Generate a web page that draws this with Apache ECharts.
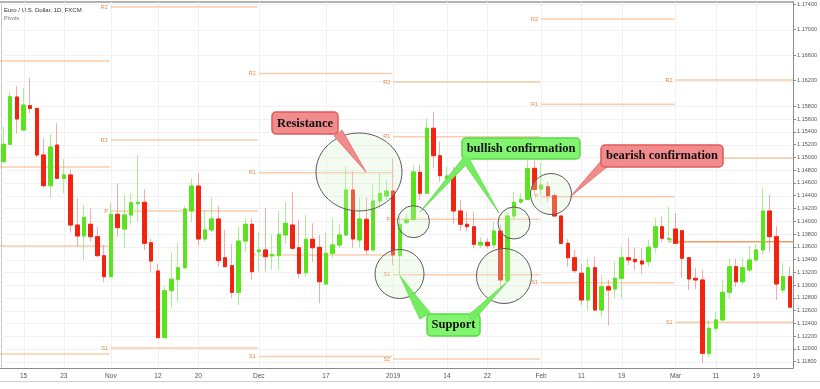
<!DOCTYPE html>
<html><head><meta charset="utf-8">
<script src="https://cdn.jsdelivr.net/npm/echarts@6/dist/echarts.min.js"></script>
<style>html,body{margin:0;padding:0;background:#fff}#c{width:820px;height:389px}</style>
</head><body><div id="c"></div>
<script>
const dates = [
'2018-10-10','2018-10-11','2018-10-12','2018-10-15','2018-10-16','2018-10-17','2018-10-18','2018-10-19','2018-10-22','2018-10-23',
'2018-10-24','2018-10-25','2018-10-26','2018-10-29','2018-10-30','2018-10-31',
'2018-11-01','2018-11-02','2018-11-05','2018-11-06','2018-11-07','2018-11-08','2018-11-09','2018-11-12','2018-11-13','2018-11-14',
'2018-11-15','2018-11-16','2018-11-19','2018-11-20','2018-11-21','2018-11-22','2018-11-23','2018-11-26','2018-11-27','2018-11-28',
'2018-11-29','2018-11-30',
'2018-12-03','2018-12-04','2018-12-05','2018-12-06','2018-12-07','2018-12-10','2018-12-11','2018-12-12','2018-12-13','2018-12-14',
'2018-12-17','2018-12-18','2018-12-19','2018-12-20','2018-12-21','2018-12-24','2018-12-26','2018-12-27','2018-12-28','2018-12-31',
'2019-01-02','2019-01-03','2019-01-04','2019-01-07','2019-01-08','2019-01-09','2019-01-10','2019-01-11','2019-01-14','2019-01-15',
'2019-01-16','2019-01-17','2019-01-18','2019-01-21','2019-01-22','2019-01-23','2019-01-24','2019-01-25','2019-01-28','2019-01-29',
'2019-01-30','2019-01-31',
'2019-02-01','2019-02-04','2019-02-05','2019-02-06','2019-02-07','2019-02-08','2019-02-11','2019-02-12','2019-02-13','2019-02-14',
'2019-02-15','2019-02-18','2019-02-19','2019-02-20','2019-02-21','2019-02-22','2019-02-25','2019-02-26','2019-02-27','2019-02-28',
'2019-03-01','2019-03-04','2019-03-05','2019-03-06','2019-03-07','2019-03-08','2019-03-11','2019-03-12','2019-03-13','2019-03-14',
'2019-03-15','2019-03-18','2019-03-19','2019-03-20','2019-03-21','2019-03-22','2019-03-25','2019-03-26'];

const opens = [
1.14932,1.15204,1.15945,1.15428,1.15811,1.15765,1.15037,1.14556,1.15193,1.14672,
1.14724,1.13941,1.13769,1.13952,1.13758,1.13460,1.13132,1.14108,1.13878,1.14097,
1.14274,1.14296,1.13664,1.13221,1.12177,1.12912,1.13091,1.13272,1.14165,1.14551,
1.13722,1.13863,1.14035,1.13429,1.13304,1.12887,1.13690,1.13952,1.13523,1.13550,
1.13456,1.13460,1.13784,1.13941,1.13585,1.13194,1.13717,1.13592,1.13017,1.13498,
1.13628,1.13784,1.14489,1.13706,1.14030,1.13550,1.14317,1.14395,1.14473,1.13460,
1.13977,1.14027,1.14766,1.14437,1.15455,1.15026,1.14661,1.14713,1.14160,1.13952,
1.13914,1.13628,1.13670,1.13628,1.13847,1.13069,1.14082,1.14301,1.14343,1.14828,
1.14504,1.14540,1.14400,1.14082,1.13654,1.13429,1.13185,1.12767,1.13272,1.12610,
1.12975,1.12939,1.13106,1.13429,1.13404,1.13377,1.13366,1.13592,1.13914,1.13717,
1.13878,1.13852,1.13429,1.13106,1.13080,1.11932,1.12324,1.12454,1.12887,1.13288,
1.13053,1.13236,1.13393,1.13550,1.14160,1.13758,1.12923,1.13132];

const closes = [
1.15204,1.15949,1.15600,1.15819,1.15765,1.15037,1.14556,1.15162,1.14672,1.14724,
1.13941,1.13769,1.14061,1.13758,1.13460,1.13132,1.14108,1.13899,1.14097,1.14290,
1.14296,1.13654,1.13377,1.12177,1.12912,1.13091,1.13272,1.14191,1.14551,1.13722,
1.13863,1.14035,1.13382,1.13288,1.12887,1.13690,1.13952,1.13210,1.13550,1.13445,
1.13476,1.13795,1.13967,1.13576,1.13185,1.13717,1.13585,1.13053,1.13498,1.13628,
1.13784,1.14489,1.13722,1.14035,1.13550,1.14317,1.14437,1.14473,1.13471,1.13952,
1.14019,1.14771,1.14437,1.15455,1.15026,1.14713,1.14708,1.14160,1.13952,1.13914,
1.13639,1.13670,1.13617,1.13847,1.13080,1.14082,1.14296,1.14340,1.14825,1.14497,
1.14567,1.14400,1.14082,1.13654,1.13429,1.13226,1.12767,1.13272,1.12610,1.12975,
1.12923,1.13106,1.13429,1.13393,1.13366,1.13330,1.13592,1.13914,1.13733,1.13733,
1.13654,1.13420,1.13096,1.13080,1.11932,1.12324,1.12454,1.12887,1.13288,1.13053,
1.13272,1.13393,1.13550,1.14160,1.13758,1.13017,1.13132,1.12654];

const highs = [
1.15480,1.16028,1.16117,1.16085,1.16242,1.15788,1.15303,1.15365,1.15533,1.14974,
1.14802,1.14359,1.14254,1.14202,1.13905,1.13617,1.14281,1.14594,1.14411,1.14437,
1.15037,1.14500,1.13722,1.13330,1.12975,1.13507,1.13654,1.14243,1.14672,1.14760,
1.14176,1.14368,1.14243,1.13863,1.13639,1.13914,1.14046,1.14046,1.13836,1.14212,
1.13795,1.14160,1.14306,1.14462,1.14019,1.14097,1.13967,1.13784,1.13836,1.14055,
1.13952,1.14854,1.14775,1.14368,1.14368,1.14578,1.14750,1.14645,1.14985,1.14071,
1.14113,1.14880,1.14880,1.15611,1.15714,1.15245,1.14854,1.14854,1.14332,1.14149,
1.14149,1.13753,1.13733,1.13993,1.13941,1.14149,1.14462,1.14442,1.14958,1.15225,
1.14911,1.14619,1.14437,1.14090,1.13722,1.13550,1.13326,1.13420,1.13445,1.13158,
1.13080,1.13366,1.13601,1.13742,1.13585,1.13576,1.13706,1.14055,1.14071,1.14227,
1.14124,1.13863,1.13440,1.13272,1.13236,1.12454,1.12584,1.13080,1.13420,1.13409,
1.13429,1.13612,1.13643,1.14515,1.14411,1.13930,1.13341,1.13288];

const lows = [
1.14911,1.15193,1.15376,1.15412,1.15694,1.15005,1.14525,1.14368,1.14661,1.14437,
1.13820,1.13601,1.13393,1.13679,1.13445,1.13053,1.13127,1.13758,1.13576,1.13941,
1.13993,1.13550,1.13210,1.12167,1.12172,1.12646,1.12731,1.13252,1.13983,1.13617,
1.13679,1.13836,1.13288,1.13283,1.12803,1.12689,1.13523,1.13080,1.13210,1.13210,
1.13236,1.13236,1.13639,1.13550,1.13106,1.13132,1.13366,1.12715,1.13002,1.13420,
1.13581,1.13769,1.13585,1.13585,1.13471,1.13534,1.14202,1.14332,1.13315,1.13158,
1.13957,1.14004,1.14332,1.14426,1.14828,1.14619,1.14567,1.13952,1.13847,1.13847,
1.13576,1.13581,1.13576,1.13576,1.12923,1.13064,1.14019,1.14270,1.14332,1.14411,
1.14411,1.14306,1.14066,1.13639,1.13288,1.13185,1.12689,1.12595,1.12602,1.12505,
1.12365,1.12793,1.12793,1.13315,1.13236,1.13174,1.13288,1.13498,1.13670,1.13679,
1.13639,1.13116,1.12923,1.12939,1.11776,1.11879,1.12261,1.12446,1.12793,1.12975,
1.13002,1.13210,1.13366,1.13471,1.13523,1.12767,1.12872,1.12640];

const xTickDates = ['2018-10-15','2018-10-23','2018-11-01','2018-11-12','2018-11-20','2018-12-03','2018-12-17',
  '2019-01-02','2019-01-14','2019-01-22','2019-02-01','2019-02-11','2019-02-19','2019-03-01','2019-03-11','2019-03-19'];
const xTickLabels = ['15','23','Nov','12','20','Dec','17','2019','14','22','Feb','11','19','Mar','11','19'];
const yTickValues = [1.174,1.170,1.166,1.162,1.158,1.156,1.154,1.152,1.150,1.148,1.146,1.144,1.142,1.140,
  1.138,1.136,1.134,1.132,1.130,1.128,1.126,1.124,1.122,1.120,1.118];

// monthly pivot levels (Oct .. Mar); month start bars, null = before visible range
const pivotStart = [null,'2018-11-01','2018-12-03','2019-01-02','2019-02-01','2019-03-01'];
const pivotR2 = [1.16508,1.17353,1.16312,1.16179,1.17165,1.16210];
const pivotR1 = [1.14848,1.15271,1.14759,1.15323,1.15830,1.14985];
const pivotP  = [1.13612,1.14160,1.13471,1.14030,1.14383,1.13679];
const pivotS1 = [1.11921,1.12015,1.11882,1.13162,1.13037,1.12417];
const pivotS2 = [null,null,null,1.11843,null,null];

const Y_MIN = 1.11702, Y_MAX = 1.17432;
const UP = '#5be31d', DOWN = '#f3240f';

const pivotSets = [['R2',pivotR2],['R1',pivotR1],['P',pivotP],['S1',pivotS1],['S2',pivotS2]];
const pivotItems = [];
pivotStart.forEach((s, m) => pivotSets.forEach(([name, arr]) => {
  if (arr[m] != null) pivotItems.push({m, v: arr[m], name});
}));

const ohlc = dates.map((d, i) => [opens[i], closes[i], lows[i], highs[i]]);
const bodies = dates.map((d, i) => [opens[i], closes[i], Math.min(opens[i], closes[i]), Math.max(opens[i], closes[i])]);
const lastClose = closes[closes.length - 1];

const chart = echarts.init(document.getElementById('c'), null, {renderer: 'canvas'});
const isTick = (idx, val) => xTickDates.indexOf(val) >= 0;
const FONT = 'Liberation Sans, Arial, sans-serif';
const SERIF = 'Liberation Serif, Times New Roman, serif';

const ellipseStyle = {fill: 'rgba(214,244,204,0.28)', stroke: '#5a5a5a', lineWidth: 1};
const redBox = {fill: '#f28b8b', stroke: '#e05a5a', lineWidth: 1.5};
const greenBox = {fill: '#82f570', stroke: '#58d846', lineWidth: 1.5};
function wedge(x0, y0, x1, y1, hw, style) {
  const dx = x1 - x0, dy = y1 - y0, L = Math.hypot(dx, dy);
  const nx = -dy / L * hw, ny = dx / L * hw;
  return {type: 'polygon', z: 100, shape: {points: [[x0 + nx, y0 + ny], [x0 - nx, y0 - ny], [x1, y1]]}, style};
}
function label(text, cx, cy) {
  return {type: 'text', z: 102, style: {text, x: cx, y: cy, align: 'center', verticalAlign: 'middle',
    font: 'bold 12.5px ' + SERIF, fill: '#111'}};
}

chart.setOption({
  animation: false,
  backgroundColor: '#fff',
  grid: {left: 0, top: 2, width: 794, height: 366, show: false},
  xAxis: {
    type: 'category', data: dates, boundaryGap: true,
    axisLine: {lineStyle: {color: '#8a8a8a', width: 1}},
    axisTick: {alignWithLabel: true, interval: isTick, length: 3, lineStyle: {color: '#8a8a8a'}},
    axisLabel: {interval: isTick, formatter: v => xTickLabels[xTickDates.indexOf(v)],
      fontSize: 6.5, color: '#555', margin: 5, fontFamily: FONT},
    splitLine: {show: false}
  },
  yAxis: {
    type: 'value', position: 'right', min: Y_MIN, max: Y_MAX, scale: true,
    axisLine: {show: true, lineStyle: {color: '#8a8a8a'}},
    axisTick: {show: true, length: 3, customValues: yTickValues, lineStyle: {color: '#8a8a8a'}},
    axisLabel: {customValues: yTickValues, formatter: v => v.toFixed(5), fontSize: 5.5, color: '#555',
      margin: 4, fontFamily: FONT},
    splitLine: {show: false}
  },
  series: [
    { // faint grid
      type: 'custom', silent: true, z: 0, data: [[0, Y_MIN]],
      renderItem(params, api) {
        const cs = params.coordSys, ch = [];
        yTickValues.forEach(v => {
          const y = Math.round(api.coord([0, v])[1]) + 0.5;
          ch.push({type: 'line', shape: {x1: cs.x, y1: y, x2: cs.x + cs.width, y2: y},
            style: {stroke: '#f1f1f1', lineWidth: 1}});
        });
        xTickDates.forEach(d => {
          const x = Math.round(api.coord([dates.indexOf(d), Y_MIN])[0]) + 0.5;
          ch.push({type: 'line', shape: {x1: x, y1: cs.y, x2: x, y2: cs.y + cs.height},
            style: {stroke: '#f1f1f1', lineWidth: 1}});
        });
        return {type: 'group', children: ch};
      }
    },
    { // pivots
      type: 'custom', silent: true, z: 1,
      data: pivotItems.map(p => [p.m, p.v]),
      encode: {x: 0, y: 1},
      renderItem(params, api) {
        const it = pivotItems[params.dataIndex];
        const cs = params.coordSys;
        const y = api.coord([0, it.v])[1];
        const s = pivotStart[it.m], e = pivotStart[it.m + 1];
        const x0 = s == null ? cs.x : api.coord([dates.indexOf(s), it.v])[0];
        const x1 = e == null ? cs.x + cs.width : api.coord([dates.indexOf(e), it.v])[0] - 1;
        const strong = it.m === 5 && it.name === 'P';
        const ch = [{type: 'line', shape: {x1: x0, y1: y, x2: x1, y2: y},
          style: {stroke: strong ? 'rgba(236,140,70,0.85)' : 'rgba(242,165,110,0.55)', lineWidth: 1.6}}];
        if (s != null) ch.push({type: 'text', style: {text: it.name, x: x0 - 3, y: y, align: 'right',
          verticalAlign: 'middle', font: '5.5px ' + FONT, fill: '#e08a45'}});
        return {type: 'group', children: ch};
      }
    },
    { // wicks
      type: 'candlestick', name: 'wick', data: ohlc, barWidth: 4, z: 3,
      itemStyle: {color: 'rgba(0,0,0,0)', color0: 'rgba(0,0,0,0)',
        borderColor: 'rgba(100,228,60,0.55)', borderColor0: 'rgba(244,90,80,0.5)', borderWidth: 1}
    },
    { // bodies
      type: 'candlestick', name: 'EURUSD', data: bodies, barWidth: 4, z: 4,
      itemStyle: {color: UP, color0: DOWN, borderColor: UP, borderColor0: DOWN, borderWidth: 1},
      markLine: {
        silent: true, symbol: 'none', data: [{yAxis: lastClose}],
        lineStyle: {opacity: 0},
        label: {show: true, position: 'end', distance: 0, formatter: lastClose.toFixed(5),
          backgroundColor: '#ee2a1a', color: '#fff', fontSize: 5.5, padding: [2, 3, 2, 3], fontFamily: FONT}
      }
    }
  ],
  graphic: [
    {type: 'line', shape: {x1: 0, y1: 2, x2: 794, y2: 2}, style: {stroke: '#9a9a9a', lineWidth: 1.5}},
    {type: 'line', shape: {x1: 1.5, y1: 2, x2: 1.5, y2: 368}, style: {stroke: '#c8c8c8', lineWidth: 1}},
    {type: 'line', shape: {x1: 0, y1: 381.5, x2: 820, y2: 381.5}, style: {stroke: '#d0d0d0', lineWidth: 1}},
    {type: 'text', style: {text: 'Euro / U.S. Dollar, 1D, FXCM', x: 4, y: 7, font: '6px ' + FONT, fill: '#333'}},
    {type: 'text', style: {text: 'Pivots', x: 4, y: 15, font: '5.5px ' + FONT, fill: '#777'}},
    // circles
    {type: 'ellipse', z: 90, shape: {cx: 359, cy: 172, rx: 43, ry: 39}, style: ellipseStyle},
    {type: 'circle', z: 90, shape: {cx: 413.5, cy: 221.7, r: 16}, style: ellipseStyle},
    {type: 'circle', z: 90, shape: {cx: 399.5, cy: 274, r: 24.5}, style: ellipseStyle},
    {type: 'circle', z: 90, shape: {cx: 504, cy: 276, r: 27.5}, style: ellipseStyle},
    {type: 'circle', z: 90, shape: {cx: 514, cy: 223, r: 16}, style: ellipseStyle},
    {type: 'circle', z: 90, shape: {cx: 551, cy: 194, r: 20.5}, style: ellipseStyle},
    // Resistance
    {type: 'rect', z: 101, shape: {x: 272, y: 112, width: 66, height: 22, r: 4}, style: redBox},
    wedge(338, 133, 366, 172, 5, {fill: redBox.fill, stroke: '#e36a6a', lineWidth: 0.8}),
    label('Resistance', 305, 123.5),
    // bullish confirmation
    {type: 'rect', z: 101, shape: {x: 462, y: 138, width: 118, height: 21, r: 4}, style: greenBox},
    wedge(466, 160, 420, 212, 3.5, {fill: '#76ec62', stroke: '#5cdc48', lineWidth: 0.8}),
    wedge(466, 160, 499, 213, 3.5, {fill: '#76ec62', stroke: '#5cdc48', lineWidth: 0.8}),
    {type: 'circle', z: 101, shape: {cx: 466, cy: 161, r: 4.5}, style: {fill: '#76ec62'}},
    label('bullish confirmation', 521, 148.5),
    // bearish confirmation
    {type: 'rect', z: 101, shape: {x: 601, y: 145, width: 122, height: 22, r: 4}, style: redBox},
    wedge(606, 162, 570, 197, 4.5, {fill: redBox.fill, stroke: '#e36a6a', lineWidth: 0.8}),
    label('bearish confirmation', 662, 156),
    // Support
    {type: 'rect', z: 101, shape: {x: 427, y: 314, width: 53, height: 22, r: 4}, style: greenBox},
    wedge(425, 316, 400, 276, 6, {fill: '#76ec62', stroke: '#5cdc48', lineWidth: 0.8}),
    wedge(473, 316, 508, 281, 3.5, {fill: '#76ec62', stroke: '#5cdc48', lineWidth: 0.8}),
    {type: 'circle', z: 101, shape: {cx: 473, cy: 316, r: 4.5}, style: {fill: '#76ec62'}},
    label('Support', 453.5, 325)
  ]
});
</script></body></html>
